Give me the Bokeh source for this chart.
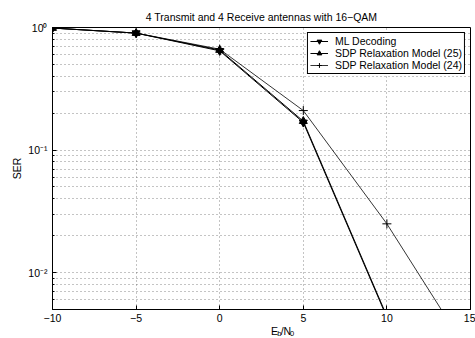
from bokeh.plotting import figure
from bokeh.layouts import column
from bokeh.models import (FixedTicker, Legend, LegendItem, Range1d, ColumnDataSource)
from bokeh.core.properties import value
from bokeh.embed import file_html
from bokeh.resources import INLINE

# ---- data ----
snr_db = [-10, -5, 0, 5, 10, 15]
ser_ml = [0.99, 0.90, 0.645, 0.168, 0.0043]          # falls below the axis after 10 dB
ser_sdp25 = [0.99, 0.90, 0.655, 0.172, 0.0044]
ser_sdp24 = [0.99, 0.90, 0.665, 0.21, 0.025, 0.0021]
series_names = ["ML Decoding", "SDP Relaxation Model (25)", "SDP Relaxation Model (24)"]

x_ticks = [-10, -5, 0, 5, 10, 15]
x_tick_labels = ["\u221210", "\u22125", "0", "5", "10", "15"]
y_ticks = [0.01, 0.1, 1]
y_tick_labels = ["10\u207b\u00b2", "10\u207b\u00b9", "10\u2070"]
y_minor = [0.006, 0.007, 0.008, 0.009,
           0.02, 0.03, 0.04, 0.05, 0.06, 0.07, 0.08, 0.09,
           0.2, 0.3, 0.4, 0.5, 0.6, 0.7, 0.8, 0.9]
y_limits = [0.005, 1]
title_text = "4 Transmit and 4 Receive antennas with 16\u2212QAM"
y_label = "SER"
x_label_parts = ["E", "b", "/N", "0"]   # E_b / N_0

FONT = "Liberation Sans"
FS = "10.5px"
W = 475
BL, BR = 52, 5

p = figure(width=W, height=324, output_backend="svg", toolbar_location=None,
           x_range=Range1d(x_ticks[0], x_ticks[-1]),
           y_range=Range1d(y_limits[0], y_limits[1]),
           y_axis_type="log", title=title_text,
           min_border_left=BL, min_border_right=BR,
           min_border_top=27, min_border_bottom=14)
p.title.align = "center"
p.title.text_font = FONT
p.title.text_font_size = FS
p.title.text_font_style = "normal"
p.title.text_color = "black"
p.title.standoff = 10
p.background_fill_color = "white"
p.border_fill_color = "white"
p.outline_line_color = "black"
p.outline_line_width = 1
p.outline_line_alpha = 1

# axes
xa = p.xaxis[0]
xa.ticker = FixedTicker(ticks=x_ticks)
xa.major_label_overrides = {t: l for t, l in zip(x_ticks, x_tick_labels)}
ya = p.yaxis[0]
ya.ticker = FixedTicker(ticks=y_ticks, minor_ticks=y_minor)
ya.major_label_overrides = {t: l for t, l in zip(y_ticks, y_tick_labels)}
ya.axis_label = y_label
ya.axis_label_text_font_style = "normal"
ya.axis_label_text_font = FONT
ya.axis_label_text_font_size = FS
ya.axis_label_text_color = "black"
ya.axis_label_standoff = 2

for ax in (xa, ya):
    ax.axis_line_color = "black"
    ax.major_tick_in = 4
    ax.major_tick_out = 0
    ax.minor_tick_in = 2
    ax.minor_tick_out = 0
    ax.major_tick_line_color = "black"
    ax.minor_tick_line_color = "black"
    ax.major_label_text_font = FONT
    ax.major_label_text_font_size = FS
    ax.major_label_text_color = "black"
    ax.major_label_standoff = 4
xa.minor_tick_line_color = None
ya.major_label_standoff = 5

# grid
for g in (p.xgrid[0], p.ygrid[0]):
    g.grid_line_color = "#555555"
    g.grid_line_alpha = 0.7
    g.grid_line_dash = "1 3"
    g.grid_line_width = 1
p.ygrid[0].minor_grid_line_color = "#555555"
p.ygrid[0].minor_grid_line_alpha = 0.7
p.ygrid[0].minor_grid_line_dash = "1 3"

# series
series = [(ser_ml, "inverted_triangle", 1.0, 8),
          (ser_sdp25, "triangle", 1.0, 8),
          (ser_sdp24, "cross", 0.8, 9)]
items = []
for (vals, marker, lw, ms), name in zip(series, series_names):
    src = ColumnDataSource(dict(x=snr_db[:len(vals)], y=vals))
    lr = p.line("x", "y", source=src, line_color="black", line_width=lw)
    if marker == "cross":
        sr = p.scatter("x", "y", source=src, marker=marker, size=ms,
                       line_color="black", line_width=1)
    else:
        sr = p.scatter("x", "y", source=src, marker=marker, size=ms,
                       fill_color="black", line_color="black")
    items.append(LegendItem(label=name, renderers=[lr, sr]))

legend = Legend(items=items, location="top_right")
legend.margin = 5
legend.padding = 2
legend.spacing = 0
legend.label_standoff = 7
legend.glyph_width = 18
legend.glyph_height = 12
legend.label_height = 12
legend.label_text_font = FONT
legend.label_text_font_size = FS
legend.label_text_color = "black"
legend.border_line_color = "black"
legend.border_line_width = 1.5
legend.border_line_alpha = 1
legend.background_fill_color = "white"
legend.background_fill_alpha = 1
p.add_layout(legend)

# x-axis label strip (E_b/N_0 with subscripts) below the plot
LH = 13
p2 = figure(width=W, height=LH, output_backend="svg", toolbar_location=None,
            x_range=Range1d(0, W), y_range=Range1d(0, LH),
            x_axis_location=None, y_axis_location=None,
            min_border=0, min_border_left=0, min_border_right=0,
            min_border_top=0, min_border_bottom=0)
p2.outline_line_color = None
p2.grid.grid_line_color = None
p2.background_fill_color = "white"
p2.border_fill_color = "white"
cx = BL + (W - BL - BR) / 2.0
p2.text(x=[cx - 12.6, cx - 1.7], y=[7.0, 7.0], text=[x_label_parts[0], x_label_parts[2]],
        text_font=value(FONT), text_font_size=value(FS), text_color="black",
        text_align="left", text_baseline="middle")
p2.text(x=[cx - 5.6, cx + 8.8], y=[4.0, 4.0], text=[x_label_parts[1], x_label_parts[3]],
        text_font=value(FONT), text_font_size=value("7.5px"), text_color="black",
        text_align="left", text_baseline="middle")

layout = column(p, p2, spacing=0)
open("out.html", "w").write(file_html(layout, INLINE))
